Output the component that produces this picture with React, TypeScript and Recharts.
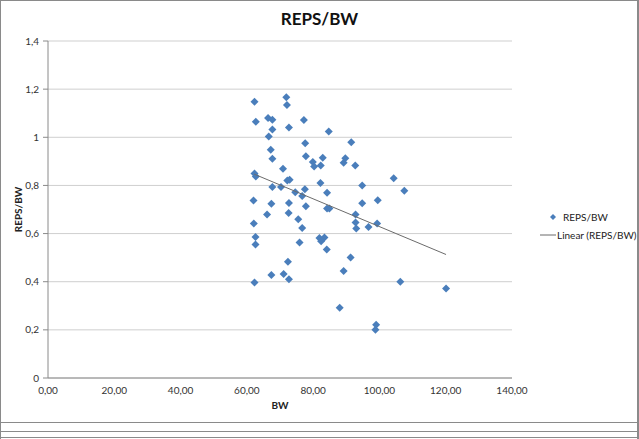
import React from "react";
import { ScatterChart, Scatter, XAxis, YAxis, CartesianGrid, Legend, Label } from "recharts";

// values
const bw = [
  62.3, 71.9, 72.1, 62.7, 66.4, 67.7, 67.7, 72.7, 77.2, 84.7,
  66.6, 77.6, 91.5, 67.2, 77.8, 67.7, 82.9, 89.7, 89.2, 79.9,
  80.3, 82.3, 92.7, 70.9, 62.3, 62.7, 72.2, 72.9, 82.2, 67.7,
  70.3, 77.5, 74.6, 76.7, 84.2, 94.8, 62.0, 67.4, 72.7, 77.8,
  84.2, 84.9, 94.8, 99.5, 66.1, 72.6, 92.8, 75.5, 62.1, 76.7,
  92.8, 93.0, 96.7, 99.3, 62.6, 62.6, 75.9, 81.9, 83.4, 82.4,
  84.1, 72.4, 91.3, 67.4, 71.1, 72.7, 89.2, 62.3, 88.0, 99.0,
  98.8, 104.3, 107.5, 106.3, 120.1,
];
const repsPerBw = [
  1.148, 1.166, 1.134, 1.065, 1.08, 1.073, 1.032, 1.041, 1.072, 1.024,
  1.003, 0.975, 0.979, 0.948, 0.921, 0.911, 0.915, 0.913, 0.894, 0.897,
  0.879, 0.883, 0.883, 0.869, 0.85, 0.837, 0.82, 0.824, 0.81, 0.793,
  0.793, 0.784, 0.772, 0.756, 0.77, 0.8, 0.737, 0.724, 0.727, 0.714,
  0.704, 0.704, 0.726, 0.738, 0.679, 0.685, 0.679, 0.659, 0.642, 0.623,
  0.646, 0.621, 0.627, 0.642, 0.586, 0.555, 0.563, 0.582, 0.584, 0.568,
  0.534, 0.483, 0.501, 0.428, 0.432, 0.41, 0.444, 0.397, 0.292, 0.221,
  0.2, 0.83, 0.778, 0.4, 0.372,
];

// linear trendline end points (Excel draws it from min to max x)
const trendBw = [62.2, 120.1];
const trendRepsPerBw = [0.847, 0.513];

const xTicks = [0, 20, 40, 60, 80, 100, 120, 140];
const yTicks = [0, 0.2, 0.4, 0.6, 0.8, 1, 1.2, 1.4];

const seriesName = "REPS/BW";
const trendName = "Linear (REPS/BW)";
const titleText = "REPS/BW";
const xTitle = "BW";
const yTitle = "REPS/BW";

const BLUE = "#4a7ebb";
const TREND = "#6b6b6b";
const FONT = "Lato, 'Liberation Sans', sans-serif";

const points = bw.map((x, i) => ({ x, y: repsPerBw[i] }));
const trend = trendBw.map((x, i) => ({ x, y: trendRepsPerBw[i] }));

const Diamond = (props: any) => {
  const { cx, cy } = props;
  if (cx == null || cy == null) return <g />;
  const r = 4;
  return (
    <polygon
      points={`${cx},${cy - r} ${cx + r},${cy} ${cx},${cy + r} ${cx - r},${cy}`}
      fill={BLUE}
    />
  );
};

const LegendBox = () => (
  <div style={{ fontFamily: FONT, fontSize: 10, color: "#222" }}>
    <div style={{ display: "flex", alignItems: "center", height: 18 }}>
      <svg width={22} height={10}>
        <polygon points="13,2 16,5 13,8 10,5" fill={BLUE} />
      </svg>
      <span style={{ marginLeft: 1 }}>{seriesName}</span>
    </div>
    <div style={{ display: "flex", alignItems: "center", height: 18 }}>
      <svg width={17} height={10}>
        <line x1={0} y1={5} x2={16} y2={5} stroke={TREND} strokeWidth={1} />
      </svg>
      <span>{trendName}</span>
    </div>
  </div>
);

const YTitle = (props: any) => {
  const vb = props.viewBox || {};
  const x = vb.x + 10;
  const y = vb.y + vb.height / 2;
  return (
    <text
      x={x}
      y={y}
      transform={`rotate(-90, ${x}, ${y})`}
      textAnchor="middle"
      dominantBaseline="central"
      fontFamily={FONT}
      fontSize={10}
      fontWeight="bold"
      fill="#222"
    >
      {yTitle}
    </text>
  );
};

export default function App() {
  return (
    <div style={{ position: "absolute", left: 0, top: 0, width: 639, height: 439, background: "#fff" }}>
      <div
        style={{
          position: "absolute",
          left: 0,
          top: 0,
          width: 636,
          height: 421,
          border: "1px solid #8a8a8a",
          borderRightWidth: 2,
        }}
      />
      <div style={{ position: "absolute", left: 0, top: 431, width: 639, borderTop: "1px solid #8a8a8a" }} />
      <div style={{ position: "absolute", left: 0, top: 437, width: 639, borderTop: "1px solid #8a8a8a" }} />
      <div style={{ position: "absolute", right: 0, top: 421, height: 18, borderLeft: "2px solid #8a8a8a" }} />
      <div style={{ position: "absolute", left: 0, top: 421, height: 18, borderLeft: "1px solid #8a8a8a" }} />
      <div
        style={{
          position: "absolute",
          left: 0,
          top: 8,
          width: 639,
          textAlign: "center",
          fontFamily: FONT,
          fontWeight: "bold",
          fontSize: 17,
          color: "#111",
        }}
      >
        {titleText}
      </div>
      <div style={{ position: "absolute", left: 0, top: 0 }}>
        <ScatterChart width={639} height={423} margin={{ top: 41, right: 27, bottom: 13, left: 8 }}>
          <CartesianGrid vertical={false} stroke="#cfcfcf" />
          <XAxis
            type="number"
            dataKey="x"
            domain={[0, 140]}
            ticks={xTicks}
            interval={0}
            tickFormatter={(v: number) => v.toFixed(2).replace(".", ",")}
            tickLine={false}
            tickSize={6}
            tickMargin={3}
            height={32}
            stroke="#8a8a8a"
            tick={{ fontFamily: FONT, fontSize: 10, fill: "#333" }}
          >
            <Label value={xTitle} position="insideBottom" offset={1} style={{ fontFamily: FONT, fontSize: 10, fontWeight: "bold", fill: "#222" }} />
          </XAxis>
          <YAxis
            type="number"
            dataKey="y"
            domain={[0, 1.4]}
            ticks={yTicks}
            interval={0}
            tickFormatter={(v: number) => String(v).replace(".", ",")}
            tickSize={5}
            tickMargin={4}
            width={40}
            stroke="#8a8a8a"
            tick={{ fontFamily: FONT, fontSize: 10, fill: "#333" }}
          >
            <Label content={<YTitle />} />
          </YAxis>
          <Legend
            layout="vertical"
            align="right"
            verticalAlign="middle"
            width={100}
            content={<LegendBox />}
            wrapperStyle={{ left: 540, top: 208, right: "auto" }}
          />
          <Scatter name={seriesName} data={points} shape={<Diamond />} isAnimationActive={false} />
          <Scatter
            name={trendName}
            data={trend}
            line={{ stroke: TREND, strokeWidth: 1 }}
            shape={() => <g />}
            legendType="line"
            isAnimationActive={false}
          />
        </ScatterChart>
      </div>
    </div>
  );
}
